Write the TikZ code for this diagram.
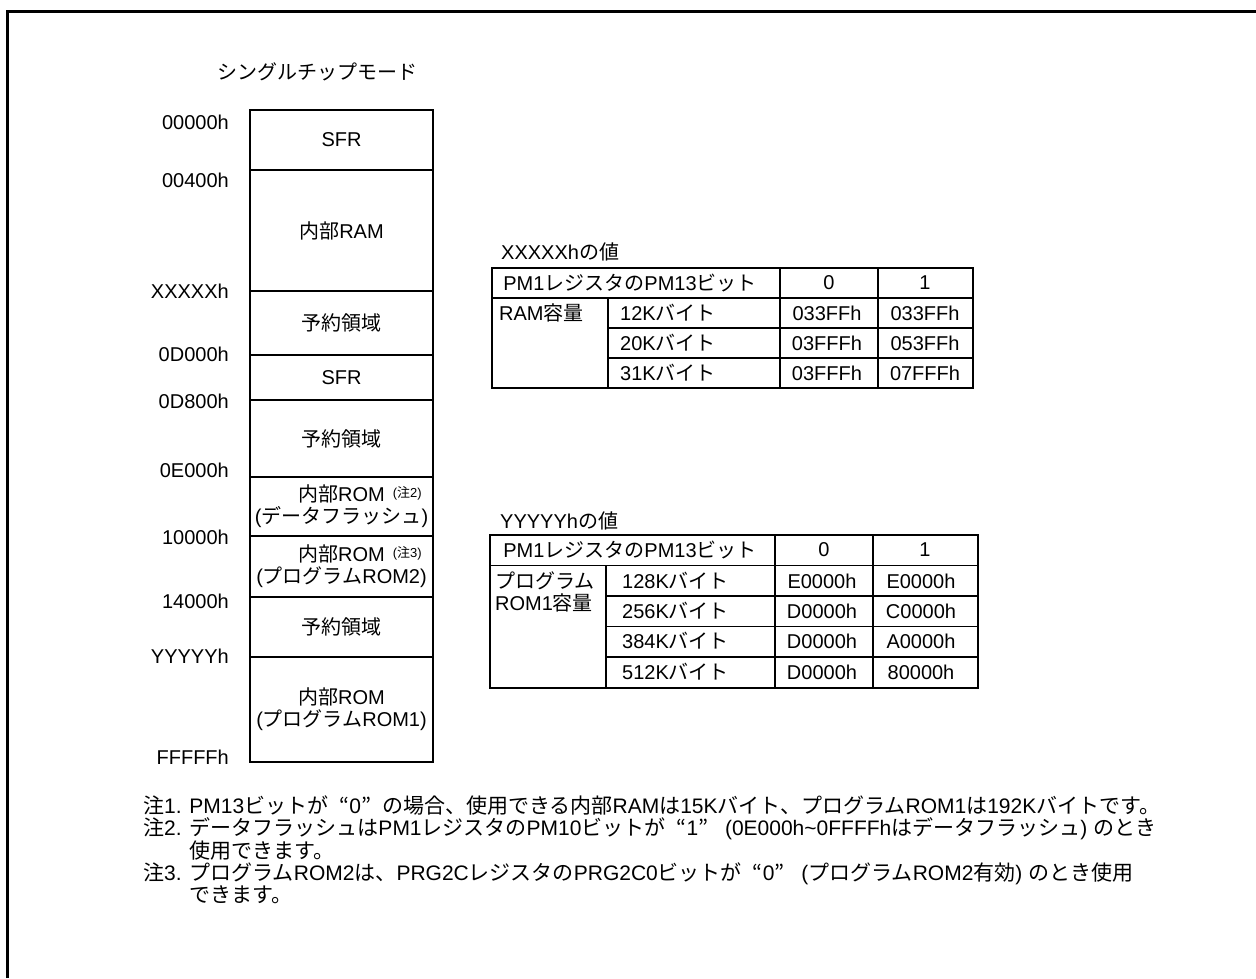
\documentclass[tikz,border=0pt]{standalone}
\usepackage{fontspec}
\setmainfont{Liberation Sans}
\newfontfamily\jpfont{Noto Sans CJK JP}
\usetikzlibrary{positioning}
\newcommand{\jp}[1]{{\jpfont #1}}
\newcommand{\jq}[1]{{\jpfont\makebox[1em][r]{“}}#1{\jpfont\makebox[1em][l]{”}}}
\newcommand{\chu}[1]{\rlap{\hspace{8pt}\raisebox{4pt}{\fontsize{13}{13}\selectfont(\jp{注}#1)}}}

\begin{document}
\begin{tikzpicture}[
    x=1pt, y=-1pt,
    every node/.style={font=\fontsize{20}{22}\selectfont},
    memblk/.style={rectangle,draw,line width=2.2pt,minimum width=183pt,
      inner sep=0pt,outer sep=0pt,align=center},
    addr/.style={anchor=east,inner sep=0pt},
    txt/.style={anchor=west,inner sep=0pt,align=left},
    notetxt/.style={txt,font=\fontsize{21}{22.5}\selectfont},
    cellc/.style={inner sep=0pt},
    tabout/.style={line width=2pt},
    tabin/.style={line width=1.2pt}
  ]
    \useasboundingbox (0,0) rectangle (1256,978);
    \draw[line width=3pt] (7,978) -- (7,11) -- (1256,11);

    % memory map
    \node[txt] (mode) at (217,72) {\jp{シングルチップモード}};
    \node[memblk,minimum height=60pt,anchor=north] (sfrA) at (341.5,110) {SFR};
    \node[memblk,minimum height=121pt,below=0pt of sfrA] (ram) {\jp{内部}RAM};
    \node[memblk,minimum height=64pt,below=0pt of ram] (rsvA) {\jp{予約領域}};
    \node[memblk,minimum height=45pt,below=0pt of rsvA] (sfrB) {SFR};
    \node[memblk,minimum height=77pt,below=0pt of sfrB] (rsvB) {\jp{予約領域}};
    \node[memblk,minimum height=59pt,below=0pt of rsvB] (dflash) {\jp{内部}ROM\chu{2}\\(\jp{データフラッシュ})};
    \node[memblk,minimum height=61pt,below=0pt of dflash] (romB) {\jp{内部}ROM\chu{3}\\(\jp{プログラム}ROM2)};
    \node[memblk,minimum height=60pt,below=0pt of romB] (rsvC) {\jp{予約領域}};
    \node[memblk,minimum height=105pt,below=0pt of rsvC] (romA) {\jp{内部}ROM\\(\jp{プログラム}ROM1)};

    \node[addr] (adrA) at (229,122) {00000h};
    \node[addr] (adrB) at (229,180) {00400h};
    \node[addr] (adrC) at (229,291) {XXXXXh};
    \node[addr] (adrD) at (229,354) {0D000h};
    \node[addr] (adrE) at (229,401) {0D800h};
    \node[addr] (adrF) at (229,470) {0E000h};
    \node[addr] (adrG) at (229,537) {10000h};
    \node[addr] (adrH) at (229,601) {14000h};
    \node[addr] (adrI) at (229,656) {YYYYYh};
    \node[addr] (adrJ) at (229,757) {FFFFFh};

    % XXXXXh table
    \node[txt] (ramttl) at (501,252) {XXXXXh\jp{の値}};
    \draw[tabin] (492,298) -- (973,298);
    \draw[tabin] (608,328) -- (973,328) (608,358) -- (973,358);
    \draw[tabin] (608,298) -- (608,388) (780,268) -- (780,388) (878,268) -- (878,388);
    \draw[tabout] (492,268) rectangle (973,388);
    \node[cellc] (ramhd) at (630,283) {PM1\jp{レジスタの}PM13\jp{ビット}};
    \node[cellc] (ramhdA) at (829,283) {0};
    \node[cellc] (ramhdB) at (925,283) {1};
    \node[txt] (ramcap) at (499,313) {RAM\jp{容量}};
    \node[txt] (ramszA) at (620,313) {12K\jp{バイト}};
    \node[txt] (ramszB) at (620,343) {20K\jp{バイト}};
    \node[txt] (ramszC) at (620,373) {31K\jp{バイト}};
    \node[cellc] (ramAa) at (827,313) {033FFh};
    \node[cellc] (ramAb) at (925,313) {033FFh};
    \node[cellc] (ramBa) at (827,343) {03FFFh};
    \node[cellc] (ramBb) at (925,343) {053FFh};
    \node[cellc] (ramCa) at (827,373) {03FFFh};
    \node[cellc] (ramCb) at (925,373) {07FFFh};

    % YYYYYh table
    \node[txt] (romttl) at (500,521) {YYYYYh\jp{の値}};
    \draw[tabin] (490,565.5) -- (978,565.5);
    \draw[tabin] (606,596) -- (978,596) (606,626.5) -- (978,626.5) (606,657) -- (978,657);
    \draw[tabin] (606,565.5) -- (606,687.5) (775,535) -- (775,687.5) (873,535) -- (873,687.5);
    \draw[tabout] (490,535) rectangle (978,687.5);
    \node[cellc] (romhd) at (630,550) {PM1\jp{レジスタの}PM13\jp{ビット}};
    \node[cellc] (romhdA) at (824,550) {0};
    \node[cellc] (romhdB) at (925,550) {1};
    \node[txt] (romcap) at (495,592) {\jp{プログラム}\\ROM1\jp{容量}};
    \node[txt] (romszA) at (622,581) {128K\jp{バイト}};
    \node[txt] (romszB) at (622,611) {256K\jp{バイト}};
    \node[txt] (romszC) at (622,641) {384K\jp{バイト}};
    \node[txt] (romszD) at (622,672) {512K\jp{バイト}};
    \node[cellc] (romAa) at (822,581) {E0000h};
    \node[cellc] (romAb) at (921,581) {E0000h};
    \node[cellc] (romBa) at (822,611) {D0000h};
    \node[cellc] (romBb) at (921,611) {C0000h};
    \node[cellc] (romCa) at (822,641) {D0000h};
    \node[cellc] (romCb) at (921,641) {A0000h};
    \node[cellc] (romDa) at (822,672) {D0000h};
    \node[cellc] (romDb) at (921,672) {80000h};

    % notes
    \node[notetxt] (noteA) at (143,805) {\jp{注}1. PM13\jp{ビットが}\jq{0}\jp{の場合、使用できる内部}RAM\jp{は}15K\jp{バイト、プログラム}ROM1\jp{は}192K\jp{バイトです。}};
    \node[notetxt] (noteB) at (143,839) {\jp{注}2. \jp{データフラッシュは}PM1\jp{レジスタの}PM10\jp{ビットが}\jq{1} (0E000h\textasciitilde0FFFFh\jp{はデータフラッシュ}) \jp{のとき}\\
      \phantom{\jp{注}2. }\jp{使用できます。}};
    \node[notetxt] (noteC) at (143,883.5) {\jp{注}3. \jp{プログラム}ROM2\jp{は、}PRG2C\jp{レジスタの}PRG2C0\jp{ビットが}\jq{0} (\jp{プログラム}ROM2\jp{有効}) \jp{のとき使用}\\
      \phantom{\jp{注}3. }\jp{できます。}};
  \end{tikzpicture}
\end{document}
